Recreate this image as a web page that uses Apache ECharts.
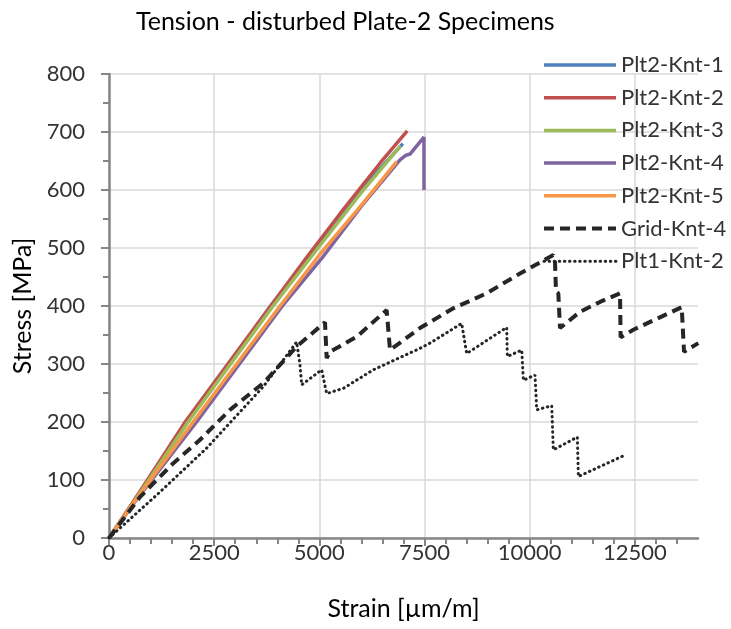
<!DOCTYPE html>
<html>
<head>
<meta charset="utf-8">
<script src="https://cdn.jsdelivr.net/npm/echarts@6/dist/echarts.min.js"></script>
<style>
html,body{margin:0;padding:0;background:#fff;}
#chart{width:731px;height:629px;}
</style>
</head>
<body>
<div id="chart"></div>
<script>
// ---- data ----
const titleText = 'Tension - disturbed Plate-2 Specimens';
const xAxisName = 'Strain [µm/m]';
const yAxisName = 'Stress [MPa]';
const xTickValues = [0, 2500, 5000, 7500, 10000, 12500];
const yTickValues = [0, 100, 200, 300, 400, 500, 600, 700, 800];
const seriesNames = ['Plt2-Knt-1','Plt2-Knt-2','Plt2-Knt-3','Plt2-Knt-4','Plt2-Knt-5','Grid-Knt-4','Plt1-Knt-2'];

const plt2Knt1 = [[0,0],[600,64],[1850,199],[3840,400],[5000,508],[6000,602],[6985,680]];
const plt2Knt2 = [[0,0],[600,65],[1800,199],[3100,327],[4700,484],[5500,560],[6450,647],[7090,702]];
const plt2Knt3 = [[0,0],[600,63],[1880,200],[3900,400],[5000,503],[6000,596],[6930,676]];
const plt2Knt4 = [[0,0],[600,61],[2080,200],[4120,400],[5055,482],[6000,572],[6917,652],[7060,660],[7155,662],[7487,691],[7487,600]];
const plt2Knt5 = [[0,0],[600,62],[2000,200],[4065,400],[5000,488],[6000,574],[6838,649]];
const gridKnt4 = [[0,0],[740,71],[1530,129],[2160,169],[2876,221],[3668,267],[4461,330],[5134,372],[5174,310],[5253,321],[5887,347],[6600,393],[6679,324],[7392,362],[8184,396],[8977,422],[9769,456],[10561,488],[10601,476],[10625,425],[10680,422],[10720,362],[11195,390],[11670,407],[12146,422],[12161,346],[12463,359],[13613,398],[13668,321],[14007,336]];
const plt1Knt2 = [[0,0],[1133,74],[2322,155],[2956,205],[3668,261],[4144,307],[4461,338],[4540,298],[4580,264],[5055,290],[5174,249],[5570,258],[6283,290],[7392,327],[7630,336],[8383,370],[8501,318],[9453,363],[9468,313],[9810,324],[9849,272],[10126,281],[10166,221],[10523,228],[10561,152],[11132,174],[11156,106],[12265,143]];

const seriesData = [plt2Knt1, plt2Knt2, plt2Knt3, plt2Knt4, plt2Knt5, gridKnt4, plt1Knt2];
const seriesColors = ['#4f81bd','#c0504d','#9bbb59','#8064a2','#f79646','#262626','#262626'];

// ---- chart ----
const FONT = 'Lato';
const chart = echarts.init(document.getElementById('chart'), null, {renderer:'canvas'});

const series = seriesData.map((d, i) => {
  let ls = {color: seriesColors[i], width: 3.5};
  if (i === 5) ls = {color: seriesColors[i], width: 4, type: [10, 6], cap: 'butt'};
  if (i === 6) ls = {color: seriesColors[i], width: 3, type: [0.5, 4.6], cap: 'round'};
  return {
    name: seriesNames[i],
    type: 'line',
    data: d,
    showSymbol: false,
    symbol: 'none',
    lineStyle: ls,
    itemStyle: {color: seriesColors[i]},
    animation: false,
    z: 2
  };
});

const option = {
  backgroundColor: '#fff',
  animation: false,
  title: {
    text: titleText,
    left: 131,
    top: 4,
    textStyle: {fontFamily: FONT, fontSize: 25, fontWeight: 'normal', color: '#000'}
  },
  legend: {
    orient: 'vertical',
    left: 537,
    top: 49,
    itemWidth: 72,
    itemHeight: 22,
    itemGap: 10.7,
    data: seriesNames,
    itemStyle: {color: 'rgba(0,0,0,0)', borderColor: 'rgba(0,0,0,0)', borderWidth: 0, opacity: 0},
    lineStyle: {width: 'inherit'},
    textStyle: {fontFamily: FONT, fontSize: 22, color: '#333'}
  },
  grid: {left: 109, right: 33, top: 74, bottom: 91, containLabel: false},
  xAxis: {
    type: 'value',
    min: 0, max: 14000, interval: 2500,
    name: xAxisName,
    nameLocation: 'middle',
    nameGap: 58,
    nameTextStyle: {fontFamily: FONT, fontSize: 25, color: '#000'},
    axisLine: {show: true, onZero: false, lineStyle: {color: '#868686', width: 2.5}},
    axisTick: {show: true, length: 8, customValues: xTickValues, lineStyle: {color: '#868686', width: 2}},
    minorTick: {show: true, splitNumber: 5, length: 6, lineStyle: {color: '#868686', width: 2}},
    axisLabel: {customValues: xTickValues, margin: 4, fontFamily: FONT, fontSize: 22, color: '#333', formatter: v => String(v)},
    splitLine: {show: true, lineStyle: {color: ['#d9d9d9','#d9d9d9','#d9d9d9','#d9d9d9','#d9d9d9','#d9d9d9','rgba(0,0,0,0)'], width: 1.5}}
  },
  yAxis: {
    type: 'value',
    min: 0, max: 800, interval: 100,
    name: yAxisName,
    nameLocation: 'middle',
    nameGap: 72,
    nameTextStyle: {fontFamily: FONT, fontSize: 25, color: '#000'},
    axisLine: {show: true, onZero: false, lineStyle: {color: '#868686', width: 2.5}},
    axisTick: {show: true, length: 8, customValues: yTickValues, lineStyle: {color: '#868686', width: 2}},
    minorTick: {show: true, splitNumber: 2, length: 6, lineStyle: {color: '#868686', width: 2}},
    axisLabel: {customValues: yTickValues, margin: 24, fontFamily: FONT, fontSize: 22, color: '#333', formatter: v => String(v)},
    splitLine: {show: true, lineStyle: {color: '#d9d9d9', width: 1.5}}
  },
  series: series
};
chart.setOption(option);
</script>
</body>
</html>
